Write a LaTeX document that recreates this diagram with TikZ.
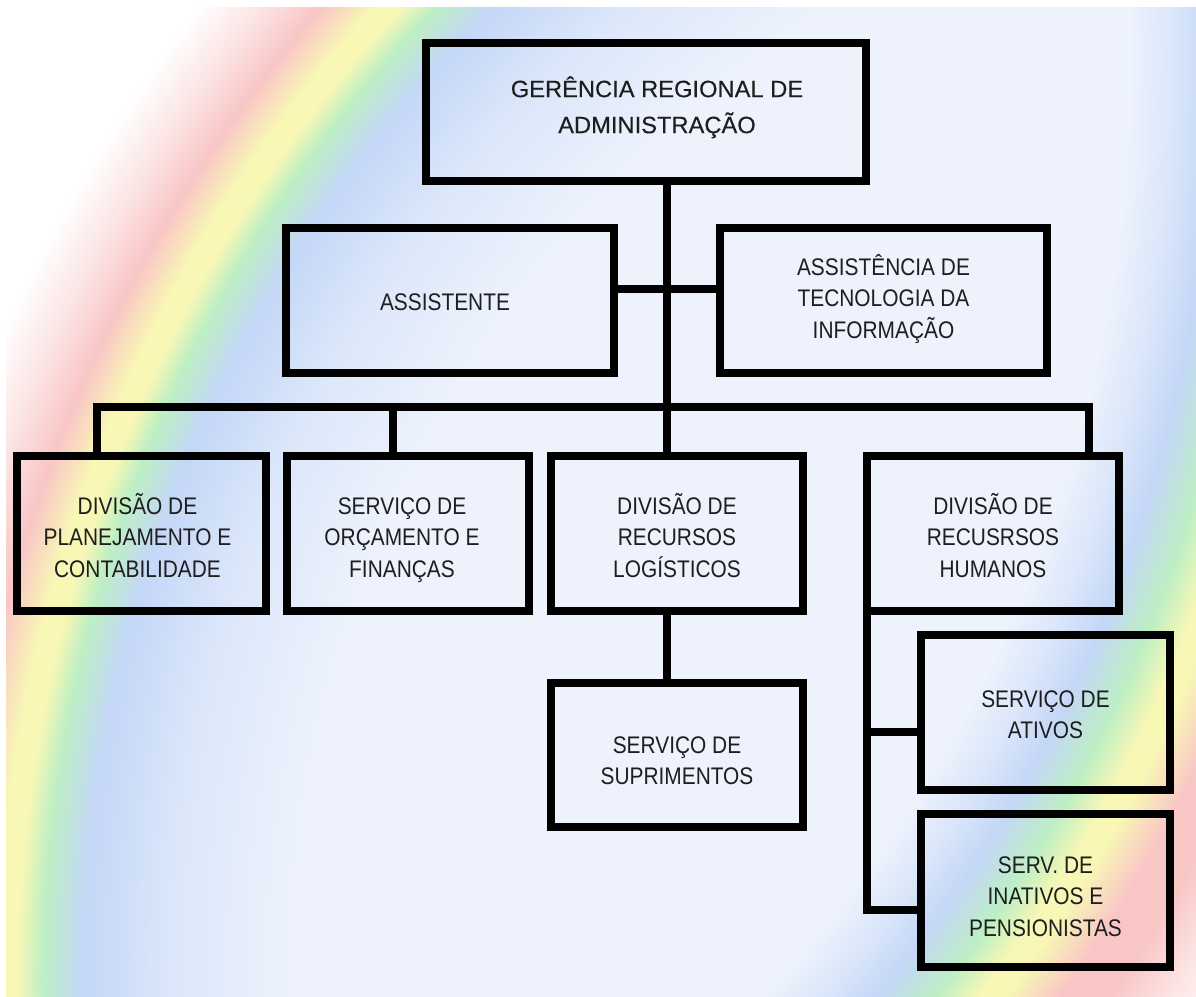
\documentclass[tikz,border=0pt]{standalone}
\usepackage{fontspec}
\setmainfont{Liberation Sans}
\newfontfamily\boxfont[FakeStretch=0.87]{Liberation Sans}
\newfontfamily\titlefont[FakeBold=0.3]{Liberation Sans}
\usetikzlibrary{calc}
\definecolor{pale}{HTML}{EDF2FC}
\definecolor{lblue}{HTML}{DCE7FA}
\definecolor{rblue}{HTML}{C4D7F7}
\definecolor{rgreen}{HTML}{BDEFC4}
\definecolor{ryellow}{HTML}{F8F7B5}
\definecolor{rpink}{HTML}{F9C6C6}
\definecolor{rpinkw}{HTML}{FCE4E4}
\definecolor{ink}{HTML}{1E1E1E}
\pgfdeclareradialshading{ringA}{\pgfpointorigin}{color(0bp)=(pale); color(17.97bp)=(pale); color(19.84bp)=(lblue); color(21.25bp)=(rblue); color(21.88bp)=(rgreen); color(22.27bp)=(ryellow); color(22.58bp)=(ryellow); color(23.2bp)=(rpink); color(23.9bp)=(rpinkw); color(24.69bp)=(white); color(25bp)=(white); color(50bp)=(white)}
\pgfdeclareradialshading{ringB}{\pgfpointorigin}{color(0bp)=(pale); color(19.17bp)=(pale); color(19.72bp)=(lblue); color(20.35bp)=(rblue); color(20.97bp)=(rgreen); color(21.46bp)=(ryellow); color(21.74bp)=(ryellow); color(22.36bp)=(rpink); color(22.92bp)=(rpink); color(23.61bp)=(rpinkw); color(24.44bp)=(white); color(25bp)=(white); color(50bp)=(white)}
\begin{document}
\begin{tikzpicture}[x=0.5pt,y=-0.5pt,
  box/.style={draw=black, line width=4pt, rectangle, inner sep=0pt, outer sep=0pt},
  conn/.style={draw=black, line width=4pt, line join=miter},
  txt/.style={font=\boxfont\fontsize{12}{15.75}\selectfont, text=ink, align=center, inner sep=0pt},
  ttl/.style={font=\titlefont\fontsize{11.85}{18}\selectfont, text=ink, align=center, inner sep=0pt}]
\useasboundingbox (0,0) rectangle (1196,997);
\fill[white] (0,0) rectangle (1196,997);
\begin{scope}
  \clip (6,7) rectangle (1196,997);
  \shade[shading=ringA] (1443,980) circle[radius=1600];
  \shade[shading=ringB, even odd rule] (-250,60) circle[radius=1800] (-250,60) circle[radius=1380];
\end{scope}

% boxes
\node[box, minimum width=220pt, minimum height=69pt] (top) at (646,112) {};
\node[box, minimum width=164pt, minimum height=72.5pt] (asst) at (450,300.5) {};
\node[box, minimum width=163.5pt, minimum height=72.5pt] (ati) at (883.5,300.5) {};
\node[box, minimum width=124.5pt, minimum height=77.5pt] (b1) at (141.5,533.5) {};
\node[box, minimum width=121pt, minimum height=77.5pt] (b2) at (408,533.5) {};
\node[box, minimum width=126pt, minimum height=77.5pt] (b3) at (677,533.5) {};
\node[box, minimum width=126pt, minimum height=77.5pt] (b4) at (993,533.5) {};
\node[box, minimum width=126pt, minimum height=72pt] (sup) at (677,755) {};
\node[box, minimum width=124.5pt, minimum height=77.5pt] (ativ) at (1045.5,712.5) {};
\node[box, minimum width=124.5pt, minimum height=76.5pt] (inat) at (1045.5,890.5) {};

% texts
\node[ttl] (ttop) at ($(top.center)+(11,-4)$) {\strut GERÊNCIA REGIONAL DE\\ADMINISTRAÇÃO\strut};
\node[txt] (tasst) at ($(asst.center)+(-5,4)$) {\strut ASSISTENTE\strut};
\node[txt] (tati) at ($(ati.center)+(0,0)$) {\strut ASSISTÊNCIA DE\\TECNOLOGIA DA\\INFORMAÇÃO\strut};
\node[txt] (tb1) at ($(b1.center)+(-4,5.7)$) {\strut DIVISÃO DE\\PLANEJAMENTO E\\CONTABILIDADE\strut};
\node[txt] (tb2) at ($(b2.center)+(-6,5.7)$) {\strut SERVIÇO DE\\ORÇAMENTO E\\FINANÇAS\strut};
\node[txt] (tb3) at ($(b3.center)+(0,5.7)$) {\strut DIVISÃO DE\\RECURSOS\\LOGÍSTICOS\strut};
\node[txt] (tb4) at ($(b4.center)+(0,5.7)$) {\strut DIVISÃO DE\\RECUSRSOS\\HUMANOS\strut};
\node[txt] (tsup) at ($(sup.center)+(0,7.5)$) {\strut SERVIÇO DE\\SUPRIMENTOS\strut};
\node[txt] (tativ) at ($(ativ.center)+(0,4)$) {\strut SERVIÇO DE\\ATIVOS\strut};
\node[txt] (tinat) at ($(inat.center)+(0,7.7)$) {\strut SERV. DE\\INATIVOS E\\PENSIONISTAS\strut};

% connectors
\coordinate (spine) at (667,407);
\coordinate (busL) at (97,407);
\coordinate (busR) at (1089,407);
\coordinate (dB2) at (393,407);
\coordinate (hub) at (667,289);
\coordinate (hrA) at (868,732);
\coordinate (hrB) at (868,910);
\draw[conn] (spine |- top.south) -- (spine |- b3.north);
\draw[conn] (busL |- b1.north) -- (busL) -- (busR) -- (busR |- b4.north);
\draw[conn] (dB2) -- (dB2 |- b2.north);
\draw[conn] (asst.east |- hub) -- (ati.west |- hub);
\draw[conn] (spine |- b3.south) -- (spine |- sup.north);
\draw[conn] (b4.south west) -- (b4.south west |- hrB) -- (inat.west |- hrB);
\draw[conn] (b4.south west |- hrA) -- (ativ.west |- hrA);
\end{tikzpicture}
\end{document}
